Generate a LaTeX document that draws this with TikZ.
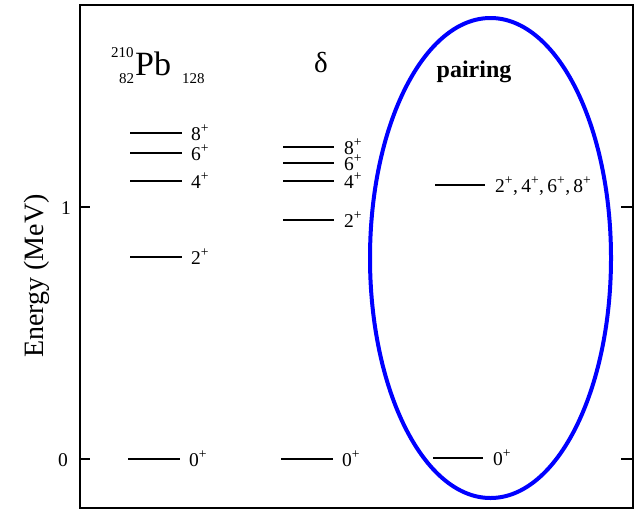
\documentclass[tikz,border=0pt]{standalone}
\usepackage{fontspec}
\setmainfont{Liberation Serif}
\usepackage{tikz}

\begin{document}
\begin{tikzpicture}[
x=1pt,
y=-1pt,
every node/.style={font=\fontsize{19.5}{22}\selectfont,inner sep=0pt},
frm/.style={line width=2pt},
lvl/.style={line width=1.5pt},
jlab/.style={anchor=base west},
tlab/.style={anchor=base east},
ttl/.style={anchor=base west,font=\fontsize{15}{17}\selectfont},
oval/.style={draw=blue,line width=4pt}
]
\useasboundingbox (0,0) rectangle (642,512);

% frame and ticks
\draw[frm] (80,5) rectangle (633,508);
\draw[frm] (80,459) -- (90,459) (80,207) -- (90,207);
\draw[frm] (633,459) -- (621,459) (633,207) -- (621,207);
\node[tlab] (tick0) at (68,466) {0};
\node[tlab] (tick1) at (71,214) {1};
\node[rotate=90,font=\fontsize{28}{30}\selectfont] (yaxis) at (37,276) {Energy (MeV)};

% headings
\node[ttl] (pbmass) at (111,57) {210};
\node[ttl] (pbz) at (119,83) {82};
\node[anchor=base west,font=\fontsize{34}{38}\selectfont] (pbsym) at (135,75) {Pb};
\node[ttl] (pbn) at (182,83) {128};
\node[font=\fontsize{29}{32}\selectfont] (delta) at (321,63) {δ};
\node[anchor=base,font=\fontsize{24}{27}\selectfont\bfseries] (pair) at (474,77) {pairing};

% 210Pb levels
\draw[lvl] (130,133) -- (182,133);
\draw[lvl] (130,153) -- (182,153);
\draw[lvl] (130,181) -- (182,181);
\draw[lvl] (130,257) -- (182,257);
\draw[lvl] (128,459) -- (180,459);
\node[jlab] (pb8) at (191,140) {8\textsuperscript{+}};
\node[jlab] (pb6) at (191,160) {6\textsuperscript{+}};
\node[jlab] (pb4) at (191,188) {4\textsuperscript{+}};
\node[jlab] (pb2) at (191,264) {2\textsuperscript{+}};
\node[jlab] (pb0) at (189,466) {0\textsuperscript{+}};

% delta levels
\draw[lvl] (283,147) -- (334,147);
\draw[lvl] (283,163) -- (334,163);
\draw[lvl] (283,181) -- (334,181);
\draw[lvl] (283,220) -- (334,220);
\draw[lvl] (281,459) -- (333,459);
\node[jlab] (dl8) at (344,154) {8\textsuperscript{+}};
\node[jlab] (dl6) at (344,170) {6\textsuperscript{+}};
\node[jlab] (dl4) at (344,188) {4\textsuperscript{+}};
\node[jlab] (dl2) at (344,227) {2\textsuperscript{+}};
\node[jlab] (dl0) at (342,466) {0\textsuperscript{+}};

% pairing levels
\draw[lvl] (435,185) -- (485,185);
\draw[lvl] (433,458) -- (483,458);
\node[jlab] (pr1) at (495,192) {2\textsuperscript{+},\,4\textsuperscript{+},\,6\textsuperscript{+},\,8\textsuperscript{+}};
\node[jlab] (pr0) at (493,465) {0\textsuperscript{+}};

\draw[oval] (490.5,258) ellipse [x radius=120.5, y radius=240];
\end{tikzpicture}
\end{document}
